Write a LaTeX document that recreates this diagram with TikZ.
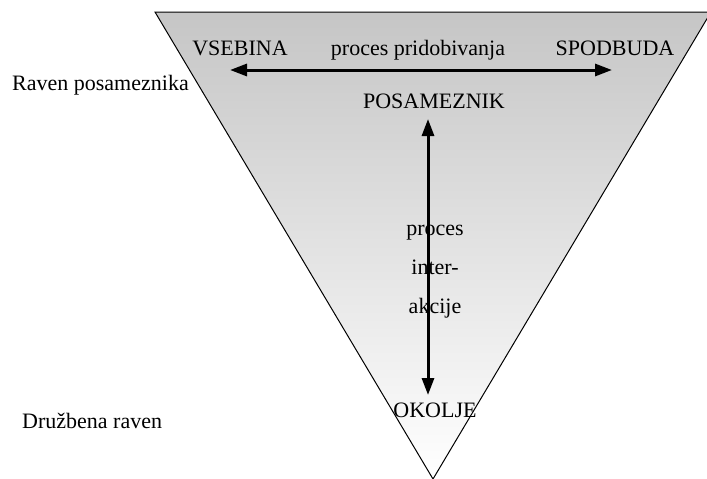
\documentclass[tikz,border=0pt]{standalone}
\usepackage{fontspec}
\setmainfont{Liberation Serif}
\usetikzlibrary{arrows.meta}

\begin{document}
\begin{tikzpicture}[x=1pt,y=-1pt,every node/.style={font=\fontsize{22}{26}\selectfont,inner sep=0pt,anchor=base},
  dblarrow/.style={{Triangle[length=17pt,width=12pt]}-{Triangle[length=17pt,width=12pt]},line width=3pt}]
  \useasboundingbox (0,0) rectangle (707,479);
  % the funnel
  \coordinate (tl) at (155,12);
  \coordinate (tr) at (711,12);
  \coordinate (apex) at (433,479);
  \shade[top color=gray!45,middle color=gray!20,bottom color=white,draw=black,line width=1pt] (tl) -- (tr) -- (apex) -- cycle;
  % individual level
  \node (vsebina) at (240,55) {VSEBINA};
  \node (pridob) at (418,55) {proces pridobivanja};
  \node (spodbuda) at (615,55) {SPODBUDA};
  \coordinate (hl) at (230,70);
  \coordinate (hr) at (612,70);
  \draw[dblarrow] (hl) -- (hr);
  \node (posam) at (434,108) {POSAMEZNIK};
  % social level
  \node (okolje) at (435,417) {OKOLJE};
  \foreach \w/\y [count=\i] in {proces/235,inter-/274,akcije/313}{
    \node (inter\i) at (435,\y) {\w};
  }
  \coordinate (vt) at (428,119);
  \coordinate (vb) at (428,395);
  \draw[dblarrow] (vt) -- (vb);
  % level labels
  \node[anchor=base west] (raven) at (12,90) {Raven posameznika};
  \node[anchor=base west] (druzba) at (22,428) {Družbena raven};
\end{tikzpicture}
\end{document}
